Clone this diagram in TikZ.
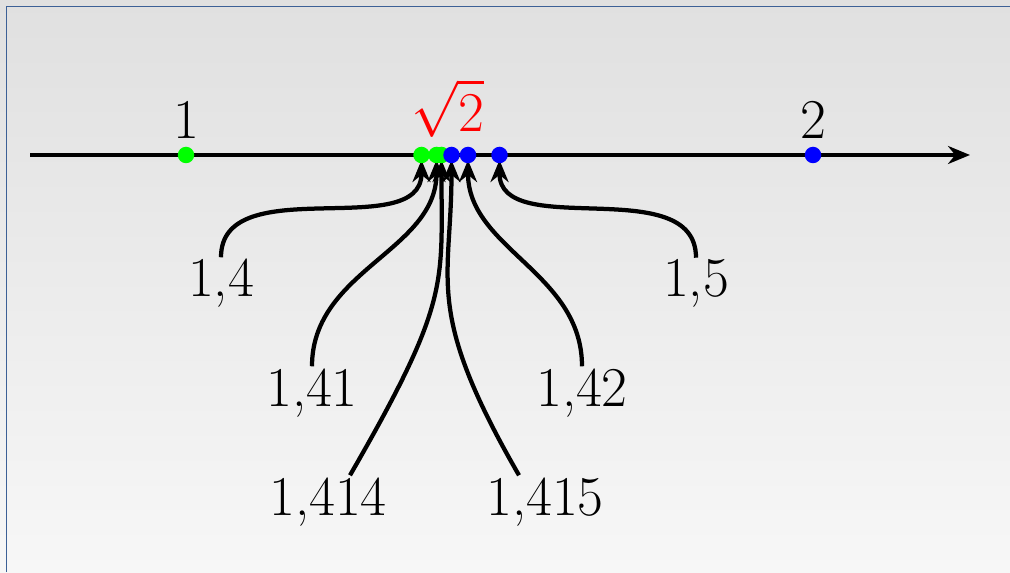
\RequirePackage{fix-cm}
\documentclass[tikz,border=0pt]{standalone}
\usepackage{tikz}
\definecolor{punktgruen}{RGB}{0,255,0}
\definecolor{punktblau}{RGB}{0,0,255}
\definecolor{rahmenblau}{RGB}{60,96,150}
\definecolor{bgoben}{RGB}{224,224,224}
\definecolor{bgunten}{RGB}{247,247,247}
\usetikzlibrary{arrows.meta}

\begin{document}
\begin{tikzpicture}[x=0.2mm, y=0.2mm,
				>={Stealth[length=4.4mm,width=3.6mm]},   %Pfeilspitzen
				punkt/.style={circle, fill=#1, inner sep=0pt, minimum size=3.3mm},
				zahl/.style={anchor=base, inner sep=1pt},
				pfeil/.style={->, line width=0.85mm, shorten >=1mm},
				font=\fontsize{32}{38}\selectfont]
				%Hintergrund
				\useasboundingbox (0,0) rectangle (1010,572);
				\shade[top color=bgoben, bottom color=bgunten] (0,0) rectangle (1010,572);
				\draw[rahmenblau, line width=0.3mm] (6.5,0) -- (6.5,565.5) -- (1010,565.5);
				% Zahlengerade
				\coordinate (start) at (30,417);
				\coordinate (ende) at (970,417);
				\draw[->, line width=0.7mm] (start) -- (ende);
				% Punkte auf der Geraden
				\foreach \n/\xp in {1/186, 14/421.5, 141/436.5, 1414/441.5, 1415/451.5, 142/468, 15/499.5, 2/813}
					\coordinate (p\n) at (\xp,417);
				% Beschriftung oben
				\node[zahl] (n1) at (186,433) {1};
				\node[zahl, red] (wurzel) at (447.5,440) {$\displaystyle\sqrt{2}$};
				\node[zahl] (n2) at (813,433) {2};
				% Naeherungen
				\node[zahl] (l14) at (221,275) {1,4};
				\node[zahl] (l141) at (312,166) {1,41};
				\node[zahl] (l1414) at (328,57) {1,414};
				\node[zahl] (l1415) at (545,57) {1,415};
				\node[zahl] (l142) at (582,166) {1,42};
				\node[zahl] (l15) at (696,275) {1,5};
				%Pfeile
				\draw[pfeil] (l14) to[out=90, in=-90] (p14);
				\draw[pfeil] (l141) to[out=90, in=-90] (p141);
				\draw[pfeil] ([xshift=4.4mm]l1414.north) to[out=60, in=-90, out looseness=1.55] (p1414);
				\draw[pfeil] ([xshift=-5.2mm]l1415.north) to[out=120, in=-90, out looseness=1.5] (p1415);
				\draw[pfeil] (l142) to[out=90, in=-90] (p142);
				\draw[pfeil] (l15) to[out=90, in=-90] (p15);
				% Punkte zeichnen
				\foreach \n/\f in {1/punktgruen, 14/punktgruen, 141/punktgruen, 1414/punktgruen, 1415/punktblau, 142/punktblau, 15/punktblau, 2/punktblau}
					\node[punkt=\f] (d\n) at (p\n) {};
			\end{tikzpicture}
\end{document}
